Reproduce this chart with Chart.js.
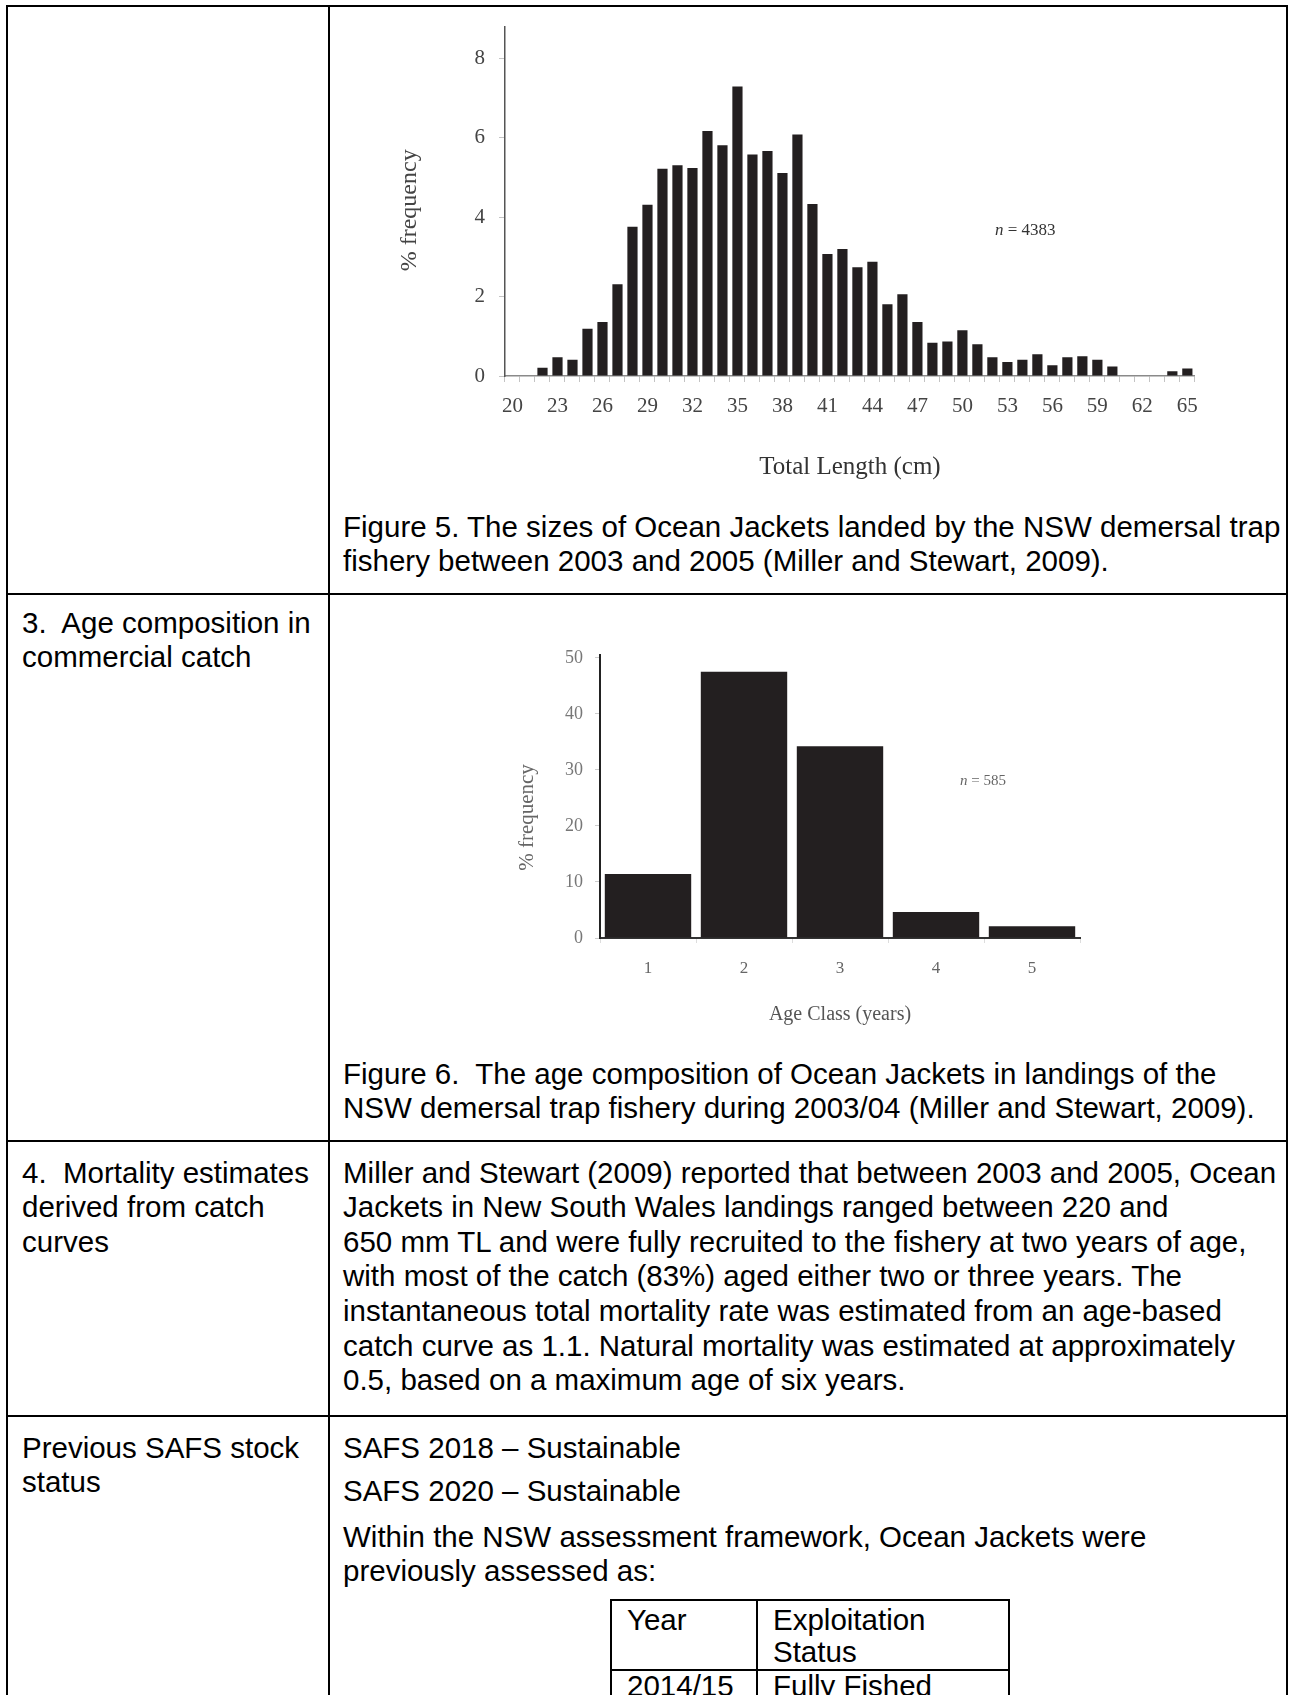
<!DOCTYPE html>
<html><head><meta charset="utf-8">
<script src="https://cdn.jsdelivr.net/npm/chart.js@4.4.1/dist/chart.umd.min.js"></script>
<style>
html,body{margin:0;padding:0;background:#fff;}
body{width:1290px;height:1695px;position:relative;overflow:hidden;font-family:"Liberation Sans",Arial,sans-serif;color:#000;}
.ln{position:absolute;background:#000;}
.t{position:absolute;font-size:29.5px;line-height:34.6px;white-space:nowrap;}
.note{position:absolute;font-family:"Liberation Serif","Times New Roman",serif;white-space:nowrap;}
.cv{position:absolute;}
</style></head><body>

<!-- table rules -->
<div class="ln" style="left:6px;top:5px;width:1282px;height:2px"></div>
<div class="ln" style="left:6px;top:5px;width:2px;height:1690px"></div>
<div class="ln" style="left:328px;top:5px;width:2px;height:1690px"></div>
<div class="ln" style="left:1286px;top:5px;width:2px;height:1690px"></div>
<div class="ln" style="left:6px;top:593px;width:1282px;height:2px"></div>
<div class="ln" style="left:6px;top:1140px;width:1282px;height:2px"></div>
<div class="ln" style="left:6px;top:1415px;width:1282px;height:2px"></div>
<!-- sub table -->
<div class="ln" style="left:610px;top:1599px;width:400px;height:2px"></div>
<div class="ln" style="left:610px;top:1599px;width:2px;height:100px"></div>
<div class="ln" style="left:756px;top:1599px;width:2px;height:100px"></div>
<div class="ln" style="left:1008px;top:1599px;width:2px;height:100px"></div>
<div class="ln" style="left:610px;top:1669px;width:400px;height:2px"></div>

<!-- charts -->
<div class="cv" style="left:380px;top:0px;width:830px;height:500px"><canvas id="c1" width="830" height="500"></canvas></div>
<div class="note" style="left:995px;top:220px;font-size:17px;color:#333"><i>n</i> = 4383</div>

<div class="cv" style="left:480px;top:620px;width:620px;height:420px"><canvas id="c2" width="620" height="420"></canvas></div>
<div class="note" style="left:960px;top:772px;font-size:15px;color:#666"><i>n</i> = 585</div>

<!-- texts -->
<div class="t" style="left:343px;top:509.5px">Figure 5. The sizes of Ocean Jackets landed by the NSW demersal trap</div>
<div class="t" style="left:343px;top:544.1px">fishery between 2003 and 2005 (Miller and Stewart, 2009).</div>

<div class="t" style="left:22px;top:605.5px">3.&nbsp; Age composition in</div>
<div class="t" style="left:22px;top:640.1px">commercial catch</div>
<div class="t" style="left:343px;top:1056.5px">Figure 6.&nbsp; The age composition of Ocean Jackets in landings of the</div>
<div class="t" style="left:343px;top:1091.1px">NSW demersal trap fishery during 2003/04 (Miller and Stewart, 2009).</div>

<div class="t" style="left:22px;top:1155.5px">4.&nbsp; Mortality estimates</div>
<div class="t" style="left:22px;top:1190.1px">derived from catch</div>
<div class="t" style="left:22px;top:1224.7px">curves</div>
<div class="t" style="left:343px;top:1155.5px">Miller and Stewart (2009) reported that between 2003 and 2005, Ocean</div>
<div class="t" style="left:343px;top:1190.1px">Jackets in New South Wales landings ranged between 220 and</div>
<div class="t" style="left:343px;top:1224.7px">650 mm TL and were fully recruited to the fishery at two years of age,</div>
<div class="t" style="left:343px;top:1259.3px">with most of the catch (83%) aged either two or three years. The</div>
<div class="t" style="left:343px;top:1293.9px">instantaneous total mortality rate was estimated from an age-based</div>
<div class="t" style="left:343px;top:1328.5px">catch curve as 1.1. Natural mortality was estimated at approximately</div>
<div class="t" style="left:343px;top:1363.1px">0.5, based on a maximum age of six years.</div>

<div class="t" style="left:22px;top:1430.5px">Previous SAFS stock</div>
<div class="t" style="left:22px;top:1465.1px">status</div>
<div class="t" style="left:343px;top:1430.5px">SAFS 2018 – Sustainable</div>
<div class="t" style="left:343px;top:1474.2px">SAFS 2020 – Sustainable</div>
<div class="t" style="left:343px;top:1519.5px">Within the NSW assessment framework, Ocean Jackets were</div>
<div class="t" style="left:343px;top:1554.1px">previously assessed as:</div>

<div class="t" style="left:627px;top:1602.5px">Year</div>
<div class="t" style="left:773px;top:1602.5px">Exploitation</div>
<div class="t" style="left:773px;top:1635px">Status</div>
<div class="t" style="left:627px;top:1668.5px">2014/15</div>
<div class="t" style="left:773px;top:1668.5px">Fully Fished</div>

<script>
// ---- Figure 5 data: length-frequency (% frequency by total length, cm)
const lengthClasses = ['20','21','22','23','24','25','26','27','28','29','30','31','32','33','34','35','36','37','38','39','40','41','42','43','44','45','46','47','48','49','50','51','52','53','54','55','56','57','58','59','60','61','62','63','64','65'];
const lengthFrequency = [0,0,0.21,0.47,0.41,1.19,1.36,2.31,3.76,4.31,5.22,5.31,5.24,6.17,5.81,7.29,5.58,5.67,5.11,6.08,4.33,3.07,3.20,2.74,2.88,1.81,2.06,1.36,0.84,0.87,1.15,0.80,0.47,0.35,0.41,0.55,0.27,0.47,0.50,0.41,0.24,0,0,0,0.12,0.19];
const lengthTickLabels = ['20','23','26','29','32','35','38','41','44','47','50','53','56','59','62','65'];

// ---- Figure 6 data: age composition (% frequency by age class, years)
const ageClasses = ['1','2','3','4','5'];
const ageFrequency = [11.4,47.5,34.2,4.65,2.1];

const serif = '"Liberation Serif", "Times New Roman", serif';
const barColor = '#231f20';

new Chart(document.getElementById('c1'), {
  type: 'bar',
  data: { labels: lengthClasses, datasets: [{ data: lengthFrequency, backgroundColor: barColor, borderWidth: 0, categoryPercentage: 1, barPercentage: 0.68 }] },
  options: {
    responsive: false, animation: false, devicePixelRatio: 1,
    layout: { padding: { top: 17, right: 14, bottom: 0, left: 0 } },
    plugins: { legend: { display: false }, tooltip: { enabled: false } },
    scales: {
      x: {
        type: 'category', offset: true,
        grid: { display: true, offset: true, drawOnChartArea: false, drawTicks: true, tickLength: 6, color: '#c4c4c4', lineWidth: 1 },
        border: { display: true, color: '#8a8a8a', width: 1.5 },
        ticks: { autoSkip: false, maxRotation: 0, minRotation: 0, padding: 12, color: '#444', font: { family: serif, size: 21 },
          callback: function (v) { const l = this.getLabelForValue(v); return lengthTickLabels.includes(l) ? l : ''; } },
        title: { display: true, text: 'Total Length (cm)', color: '#333', font: { family: serif, size: 25 }, padding: { top: 0, bottom: 18 } },
        afterFit: (s) => { s.height = 124; }
      },
      y: {
        min: 0, max: 8.8,
        grid: { drawOnChartArea: false, drawTicks: true, tickLength: 6, color: '#c4c4c4' },
        border: { display: true, color: '#555', width: 1.5 },
        ticks: { stepSize: 2, includeBounds: false, padding: 14, color: '#444', font: { family: serif, size: 21 } },
        title: { display: true, text: '% frequency   ', color: '#444', font: { family: serif, size: 24 }, padding: { top: 15.6, bottom: 0 } },
        afterFit: (s) => { s.width = 125; }
      }
    }
  }
});

new Chart(document.getElementById('c2'), {
  type: 'bar',
  data: { labels: ageClasses, datasets: [{ data: ageFrequency, backgroundColor: barColor, borderWidth: 0, categoryPercentage: 1, barPercentage: 0.9 }] },
  options: {
    responsive: false, animation: false, devicePixelRatio: 1,
    layout: { padding: { top: 35, right: 20, bottom: 0, left: 0 } },
    plugins: { legend: { display: false }, tooltip: { enabled: false } },
    scales: {
      x: {
        type: 'category', offset: true,
        grid: { display: true, offset: true, drawOnChartArea: false, drawTicks: true, tickLength: 5, color: '#dddddd' },
        border: { display: true, color: '#333', width: 2 },
        ticks: { autoSkip: false, maxRotation: 0, padding: 15, color: '#666', font: { family: serif, size: 17 } },
        title: { display: true, text: 'Age Class (years)', color: '#555', font: { family: serif, size: 20 }, padding: { top: 0, bottom: 13 } },
        afterFit: (s) => { s.height = 102; }
      },
      y: {
        min: 0, max: 50.5,
        grid: { drawOnChartArea: false, drawTicks: true, tickLength: 5, color: '#cccccc' },
        border: { display: true, color: '#222', width: 2 },
        ticks: { stepSize: 10, includeBounds: false, padding: 12, color: '#777', font: { family: serif, size: 18 } },
        title: { display: true, text: '% frequency        ', color: '#666', font: { family: serif, size: 21 }, padding: { top: 34.4, bottom: 0 } },
        afterFit: (s) => { s.width = 120; }
      }
    }
  }
});
</script>
</body></html>
